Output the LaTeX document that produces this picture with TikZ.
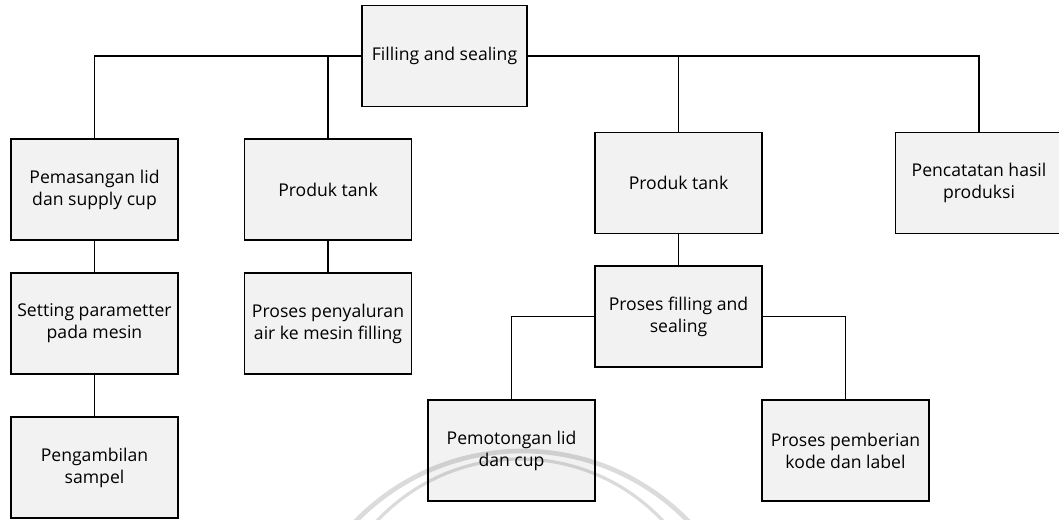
\documentclass[tikz,border=0pt]{standalone}
\usepackage{fontspec}
\setmainfont{Open Sans}
\definecolor{boxfill}{HTML}{F2F2F2}
\begin{document}
\begin{tikzpicture}[x=0.75pt,y=-0.75pt,
  stepbox/.style={draw=black, fill=boxfill, line width=1.1pt, rectangle,
    minimum width=125.25pt, minimum height=75.75pt, inner sep=0pt,
    align=center, font=\fontsize{13.2}{16.5}\selectfont},
  link/.style={draw=black, line width=1.1pt},
  wmarc/.style={draw=black, opacity=0.14, line width=3.5pt}]
\useasboundingbox (0,0) rectangle (1059,520);

% top level
\node[stepbox, minimum width=123.75pt] (top) at (444.5,56) {Filling and sealing};

% left branch
\node[stepbox] (b1) at (94.5,189.5) {Pemasangan lid\\dan supply cup};
\node[stepbox] (b3) at (94.5,323.5) {Setting parametter\\pada mesin};
\node[stepbox] (b4) at (94.5,467.5) {Pengambilan\\sampel};
\node[stepbox] (b2) at (328,189.5) {Produk tank};
\node[stepbox] (b5) at (328,323.5) {Proses penyaluran\\air ke mesin filling};

% right branch
\node[stepbox] (b6) at (678.5,183) {Produk tank};
\node[stepbox] (b7) at (979,183) {Pencatatan hasil\\produksi};
\node[stepbox] (b8) at (678.5,316.5) {Proses filling and\\sealing};
\node[stepbox] (b9) at (511.5,450.5) {Pemotongan lid\\dan cup};
\node[stepbox] (b10) at (845.5,450.5) {Proses pemberian\\kode dan label};

% connectors
\draw[link] (top.west) -| (b1.north);
\draw[link] (b2.north) |- (top.west);
\draw[link] (top.east) -| (b7.north);
\draw[link] (b6.north) |- (top.east);
\draw[link] (b1.south) -- (b3.north);
\draw[link] (b3.south) -- (b4.north);
\draw[link] (b2.south) -- (b5.north);
\draw[link] (b6.south) -- (b8.north);
\draw[link] (b8.west) -| (b9.north);
\draw[link] (b8.east) -| (b10.north);

% faint watermark arcs
\begin{scope}
\clip (0,0) rectangle (1059,520);
\draw[wmarc] (522,683) circle[radius=232];
\draw[wmarc, line width=2.4pt] (520,655) circle[radius=196];
\end{scope}
\end{tikzpicture}
\end{document}
